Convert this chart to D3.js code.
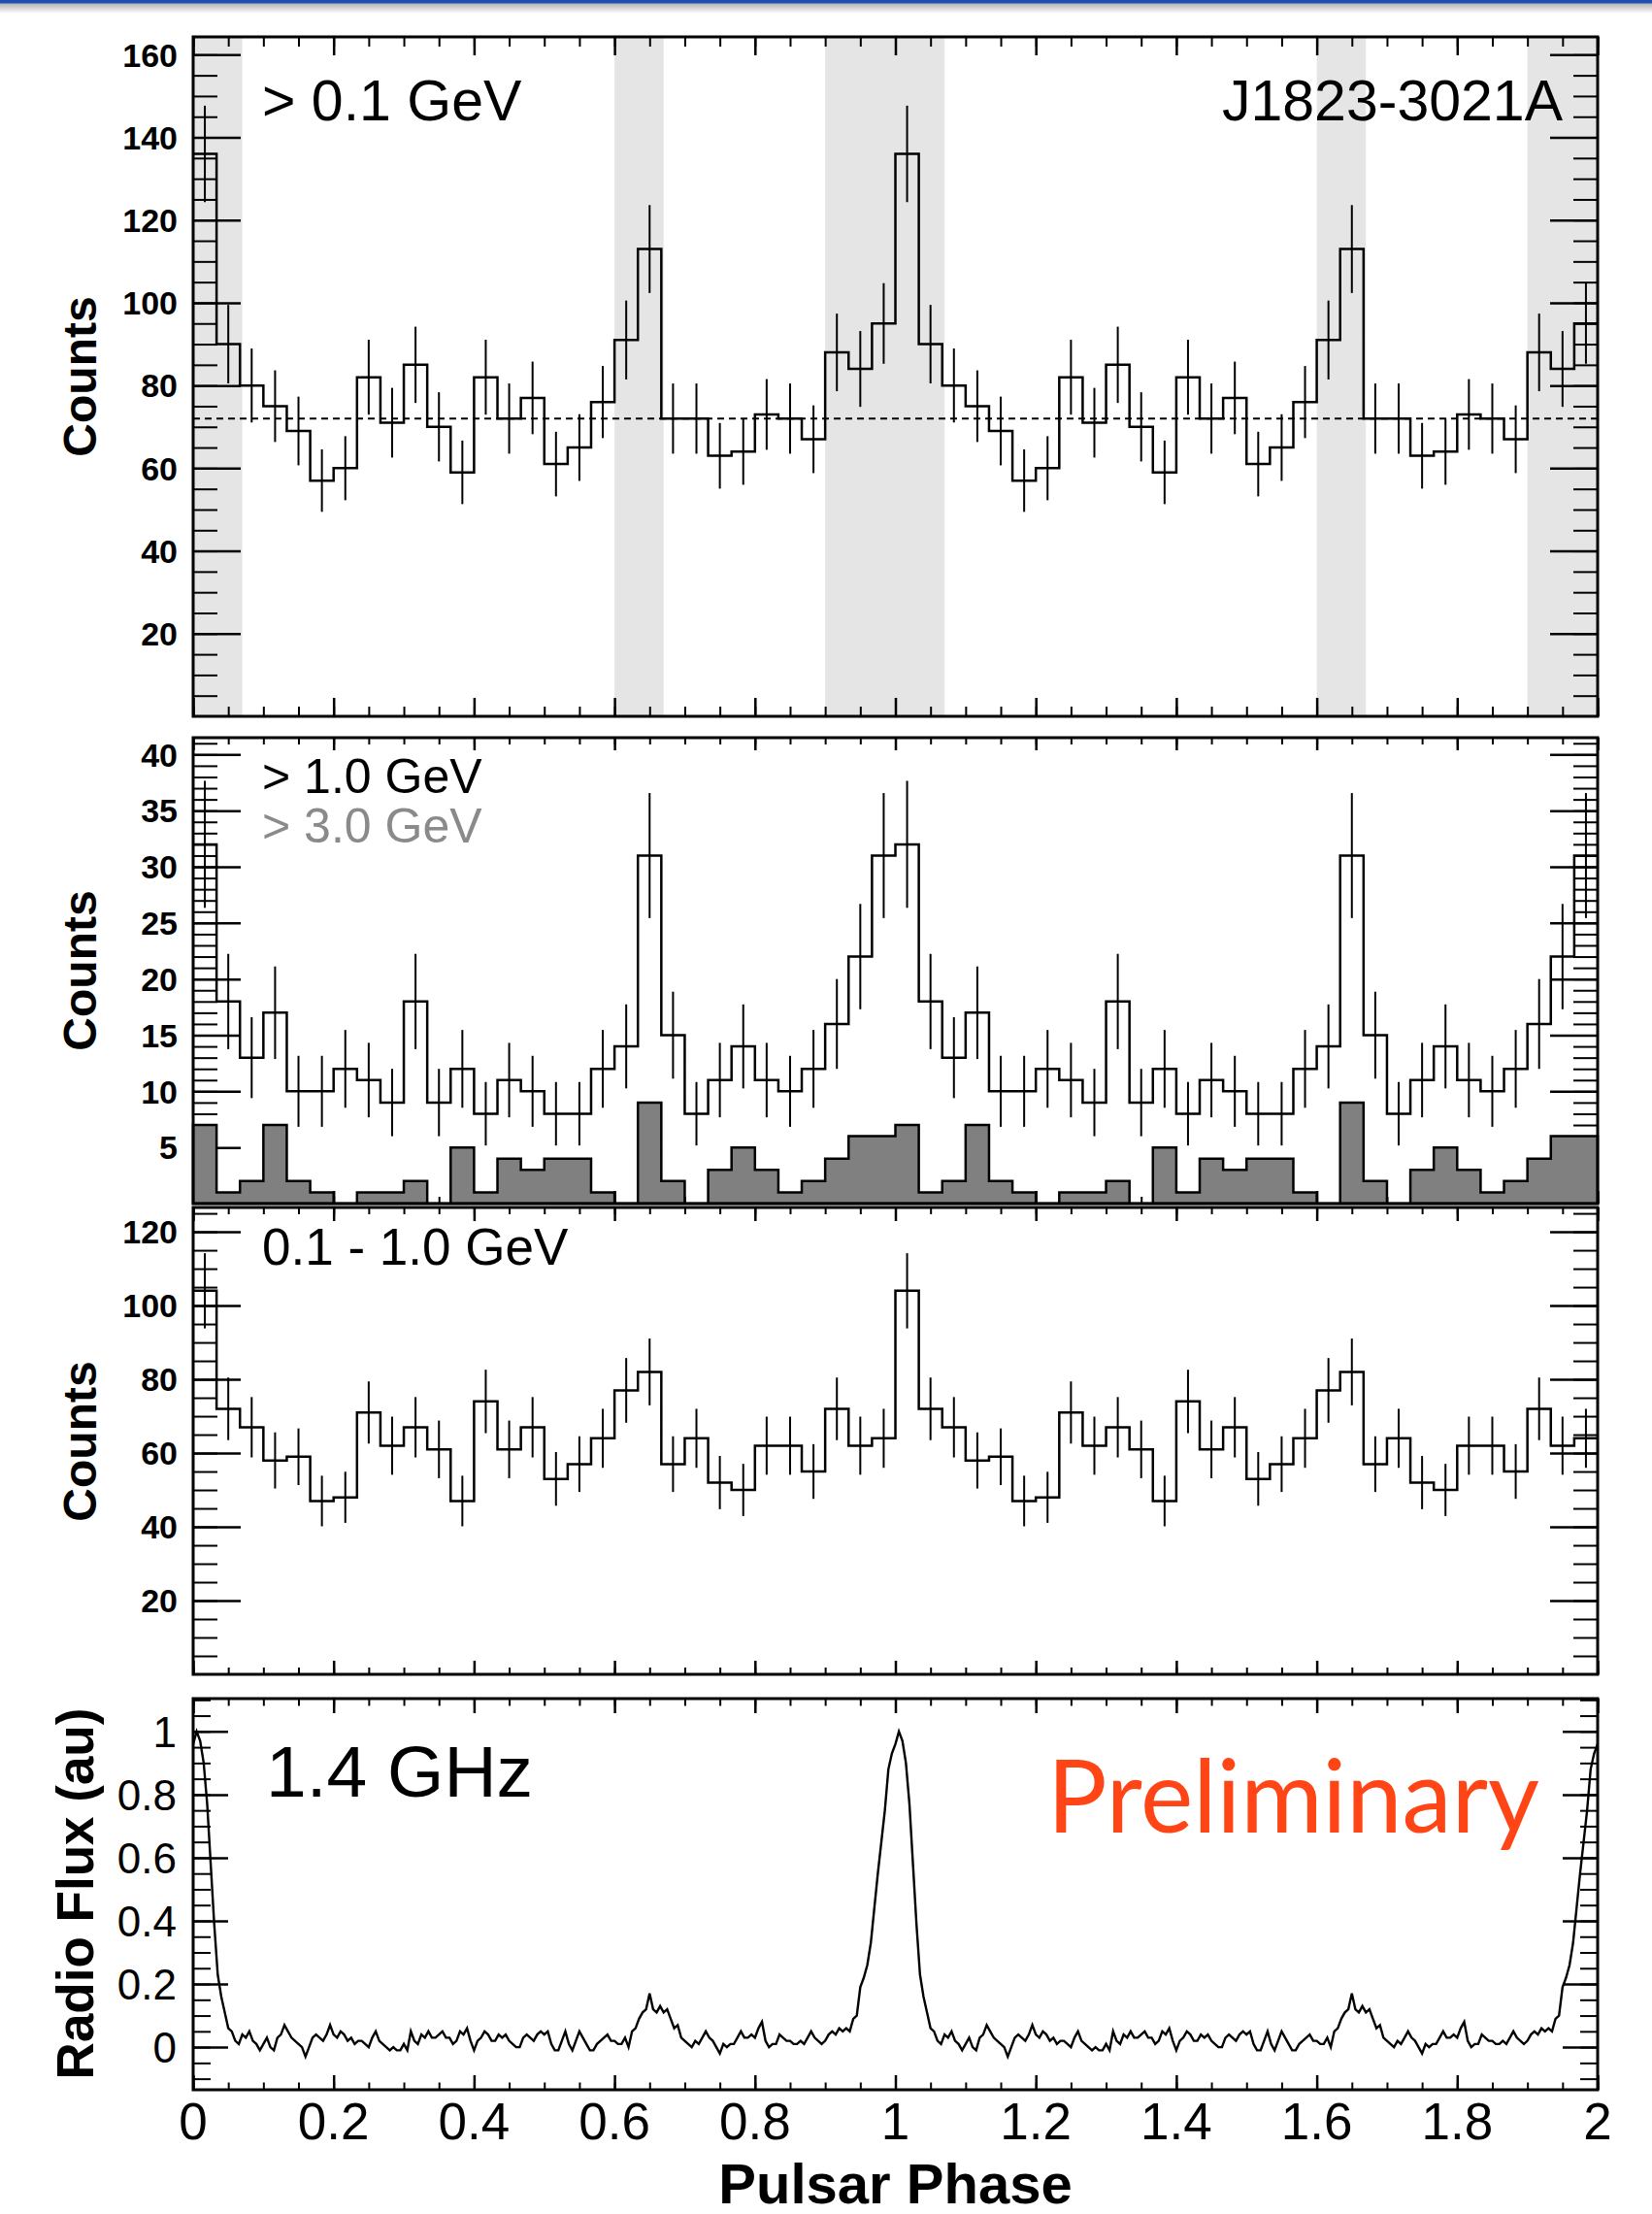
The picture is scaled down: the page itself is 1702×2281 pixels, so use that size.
<!DOCTYPE html>
<html>
<head>
<meta charset="utf-8">
<script src="https://cdn.jsdelivr.net/npm/d3@7"></script>
<style>
  body { margin: 0; background: #fff; }
</style>
</head>
<body>
<div id="chart"></div>
<script>
// phase histograms: 30 bins per rotation, the plot shows two rotations
const phaseBins = 30
const countsAbove01 = [136, 90, 80, 75, 69, 57, 60, 82, 71, 85, 70, 59, 82, 72, 77, 61, 65, 76, 91, 113, 72, 72, 63, 64, 73, 72, 67, 88, 84, 95]
const countsAbove1 = [32, 18, 13, 17, 10, 10, 12, 11, 9, 18, 9, 12, 8, 11, 10, 8, 8, 12, 14, 31, 15, 8, 11, 14, 11, 10, 12, 16, 22, 31]
const countsAbove3 = [7, 1, 2, 7, 2, 1, 0, 1, 1, 2, 0, 5, 1, 4, 3, 4, 4, 1, 0, 9, 2, 0, 3, 5, 3, 1, 2, 4, 6, 6]
const counts01to1 = [104, 72, 67, 58, 59, 47, 48, 71, 62, 67, 61, 47, 74, 61, 67, 53, 57, 64, 77, 82, 57, 64, 52, 50, 62, 62, 55, 72, 62, 64]
const backgroundLevel = 72
const onPulseWindows = [[0, 0.07], [0.6, 0.67], [0.9, 1.07], [1.6, 1.67], [1.9, 2.0]]

// 1.4 GHz radio profile, one rotation sampled every 0.005 in phase
const radioStep = 0.005
const radioFlux = [
  0.96, 1.00, 0.97, 0.90, 0.77, 0.58, 0.39, 0.23, 0.16, 0.11,
  0.06, 0.05, 0.02, 0.01, 0.04, 0.03, 0.05, 0.02, 0.01, -0.01,
  0.01, 0.03, 0.00, -0.01, 0.03, 0.04, 0.07, 0.05, 0.03, 0.02,
  0.01, 0.00, -0.03, 0.00, 0.03, 0.04, 0.03, 0.02, 0.04, 0.07,
  0.04, 0.03, 0.05, 0.04, 0.02, 0.03, 0.01, 0.02, 0.02, 0.01,
  0.00, 0.03, 0.05, 0.02, 0.01, 0.00, -0.01, 0.00, -0.01, -0.01,
  0.01, -0.01, 0.05, 0.02, 0.01, 0.04, 0.03, 0.05, 0.03, 0.03,
  0.04, 0.05, 0.03, 0.03, 0.01, 0.02, 0.05, 0.04, 0.06, 0.02,
  -0.01, 0.02, 0.03, 0.05, 0.04, 0.02, 0.02, 0.04, 0.03, 0.04,
  0.02, 0.01, 0.00, 0.00, 0.03, 0.04, 0.03, 0.02, 0.04, 0.05,
  0.04, 0.05, 0.01, -0.01, -0.01, 0.02, 0.05, 0.01, -0.01, 0.02,
  0.05, 0.03, 0.01, -0.01, -0.01, 0.01, 0.02, 0.03, 0.04, 0.02,
  0.02, 0.01, 0.01, 0.03, 0.00, 0.05, 0.06, 0.09, 0.11, 0.12,
  0.17, 0.12, 0.11, 0.13, 0.11, 0.12, 0.09, 0.06, 0.07, 0.03,
  0.02, 0.01, 0.00, 0.02, 0.01, 0.03, 0.05, 0.03, 0.02, 0.00,
  -0.02, 0.01, 0.00, 0.01, 0.01, 0.03, 0.05, 0.03, 0.03, 0.04,
  0.03, 0.06, 0.08, 0.02, 0.00, 0.01, 0.01, 0.04, 0.03, 0.02,
  0.02, 0.01, 0.01, 0.02, 0.01, 0.03, 0.05, 0.03, 0.02, 0.01,
  0.02, 0.04, 0.05, 0.04, 0.06, 0.05, 0.06, 0.05, 0.09, 0.10,
  0.19, 0.22, 0.26, 0.33, 0.44, 0.55, 0.65, 0.75, 0.88, 0.93
]

const xTickValues = [0, 0.2, 0.4, 0.6, 0.8, 1, 1.2, 1.4, 1.6, 1.8, 2]
const xTickLabels = ['0', '0.2', '0.4', '0.6', '0.8', '1', '1.2', '1.4', '1.6', '1.8', '2']
const radioTickValues = [0, 0.2, 0.4, 0.6, 0.8, 1]
const radioTickLabels = ['0', '0.2', '0.4', '0.6', '0.8', '1']

const width = 1702, height = 2281
const font = "'Liberation Sans', Arial, Helvetica, sans-serif"

const svg = d3.select('#chart').append('svg')
  .attr('width', width)
  .attr('height', height)
  .style('font-family', font)

// slide header strip
const defs = svg.append('defs')
const grad = defs.append('linearGradient').attr('id', 'hdr')
  .attr('x1', 0).attr('x2', 0).attr('y1', 0).attr('y2', 1)
grad.append('stop').attr('offset', '0%').attr('stop-color', '#b0b0b0')
grad.append('stop').attr('offset', '100%').attr('stop-color', '#ffffff')
svg.append('rect').attr('x', 0).attr('y', 3).attr('width', width).attr('height', 11).attr('fill', 'url(#hdr)')
svg.append('rect').attr('x', 0).attr('y', 0).attr('width', width).attr('height', 3.5).attr('fill', '#1f4fb2')

const x = d3.scaleLinear().domain([0, 2]).range([199, 1646])

// repeat one rotation over two
const twoCycles = arr => d3.range(2 * phaseBins).map(i => ({ phase: i / phaseBins, value: arr[i % phaseBins] }))
const stepData = arr => {
  const b = twoCycles(arr)
  return [...b, { phase: 2, value: b[b.length - 1].value }]
}

function drawTicks(g, y, t) {
  const [yb, yt] = y.range()
  const [xl, xr] = x.range()
  const xMajor = d3.range(0, 11).map(i => i * 0.2)
  const xMinor = d3.range(0, 41).map(i => i * 0.05)
  const sets = [
    [d3.axisBottom, x, xMinor, t.xMinor, 2, `translate(0,${yb})`],
    [d3.axisBottom, x, xMajor, t.xMajor, 2.5, `translate(0,${yb})`],
    [d3.axisTop, x, xMinor, t.xMinor, 2, `translate(0,${yt})`],
    [d3.axisTop, x, xMajor, t.xMajor, 2.5, `translate(0,${yt})`],
    [d3.axisLeft, y, t.yMinorValues, t.yMinor, 2, `translate(${xl},0)`],
    [d3.axisLeft, y, t.yMajorValues, t.yMajor, 2.5, `translate(${xl},0)`],
    [d3.axisRight, y, t.yMinorValues, t.yMinor, 2, `translate(${xr},0)`],
    [d3.axisRight, y, t.yMajorValues, t.yMajor, 2.5, `translate(${xr},0)`]
  ]
  sets.forEach(([axisFn, scale, values, size, sw, tr]) => {
    const a = g.append('g')
      .attr('transform', tr)
      .call(axisFn(scale).tickValues(values).tickSize(-size).tickFormat(''))
    a.select('.domain').remove()
    a.selectAll('line').attr('stroke', '#000').attr('stroke-width', sw)
  })
}

function drawFrame(g, y) {
  const [yb, yt] = y.range()
  const [xl, xr] = x.range()
  g.append('rect')
    .attr('x', xl).attr('y', yt)
    .attr('width', xr - xl).attr('height', yb - yt)
    .attr('fill', 'none')
    .attr('stroke', '#000')
    .attr('stroke-width', 3)
}

function drawHistogram(g, y, arr) {
  const line = d3.line()
    .x(d => x(d.phase))
    .y(d => y(d.value))
    .curve(d3.curveStepAfter)
  g.append('path')
    .datum(stepData(arr))
    .attr('d', line)
    .attr('fill', 'none')
    .attr('stroke', '#000')
    .attr('stroke-width', 2.5)

  // Poisson error bars at bin centres
  g.selectAll('.err')
    .data(twoCycles(arr))
    .enter()
    .append('line')
    .attr('class', 'err')
    .attr('x1', d => x(d.phase + 0.5 / phaseBins))
    .attr('x2', d => x(d.phase + 0.5 / phaseBins))
    .attr('y1', d => y(d.value - Math.sqrt(d.value)))
    .attr('y2', d => y(d.value + Math.sqrt(d.value)))
    .attr('stroke', '#000')
    .attr('stroke-width', 2)
}

function yLabels(g, y, values, labels, size, weight, xr) {
  g.selectAll(null)
    .data(values)
    .enter()
    .append('text')
    .attr('x', xr)
    .attr('y', d => y(d))
    .attr('dy', '0.36em')
    .attr('text-anchor', 'end')
    .attr('font-size', size)
    .attr('font-weight', weight)
    .text((d, i) => labels[i])
}

function axisTitle(g, text, cx, cy, size) {
  g.append('text')
    .attr('transform', `translate(${cx},${cy}) rotate(-90)`)
    .attr('text-anchor', 'middle')
    .attr('font-size', size)
    .attr('font-weight', 'bold')
    .text(text)
}

function annotation(g, text, px, py, size, opts = {}) {
  g.append('text')
    .attr('x', px)
    .attr('y', py)
    .attr('font-size', size)
    .attr('text-anchor', opts.anchor || 'start')
    .attr('fill', opts.fill || '#000')
    .text(text)
}

// ---- panel 1: > 0.1 GeV
const y1 = d3.scaleLinear().domain([0, 164.3]).range([738, 38])
const g1 = svg.append('g')
g1.selectAll('.win')
  .data(onPulseWindows)
  .enter()
  .append('rect')
  .attr('x', d => x(d[0]))
  .attr('width', d => x(d[1]) - x(d[0]))
  .attr('y', y1.range()[1])
  .attr('height', y1.range()[0] - y1.range()[1])
  .attr('fill', '#e5e5e5')
g1.append('line')
  .attr('x1', x(0)).attr('x2', x(2))
  .attr('y1', y1(backgroundLevel)).attr('y2', y1(backgroundLevel))
  .attr('stroke', '#000')
  .attr('stroke-width', 2)
  .attr('stroke-dasharray', '7,5')
drawHistogram(g1, y1, countsAbove01)
drawTicks(g1, y1, {
  xMajor: 19, xMinor: 10, yMajor: 49, yMinor: 25,
  yMajorValues: d3.range(20, 161, 20), yMinorValues: d3.range(5, 161, 5)
})
drawFrame(g1, y1)
yLabels(g1, y1, d3.range(20, 161, 20), d3.range(20, 161, 20).map(String), 34, 'bold', 183)
axisTitle(g1, 'Counts', 99, 388, 48)
annotation(g1, '> 0.1 GeV', 270, 124, 59)
annotation(g1, 'J1823-3021A', 1610, 124, 59, { anchor: 'end' })

// ---- panel 2: > 1.0 GeV and > 3.0 GeV
const y2 = d3.scaleLinear().domain([0, 41.5]).range([1240, 760])
const g2 = svg.append('g')
drawHistogram(g2, y2, countsAbove1)
drawTicks(g2, y2, {
  xMajor: 13, xMinor: 7, yMajor: 49, yMinor: 25,
  yMajorValues: d3.range(5, 41, 5), yMinorValues: d3.range(1, 42, 1)
})
const area = d3.area()
  .x(d => x(d.phase))
  .y0(y2(0))
  .y1(d => y2(d.value))
  .curve(d3.curveStepAfter)
g2.append('path')
  .datum(stepData(countsAbove3))
  .attr('d', area)
  .attr('fill', '#808080')
  .attr('stroke', '#000')
  .attr('stroke-width', 2.5)
drawFrame(g2, y2)
yLabels(g2, y2, d3.range(5, 41, 5), d3.range(5, 41, 5).map(String), 34, 'bold', 183)
axisTitle(g2, 'Counts', 99, 1000, 48)
annotation(g2, '> 1.0 GeV', 270, 817, 50)
annotation(g2, '> 3.0 GeV', 270, 868, 50, { fill: '#8a8a8a' })

// ---- panel 3: 0.1 - 1.0 GeV
const y3 = d3.scaleLinear().domain([0, 126.6]).range([1725, 1244])
const g3 = svg.append('g')
drawHistogram(g3, y3, counts01to1)
drawTicks(g3, y3, {
  xMajor: 14, xMinor: 7, yMajor: 49, yMinor: 25,
  yMajorValues: d3.range(20, 121, 20), yMinorValues: d3.range(5, 126, 5)
})
drawFrame(g3, y3)
yLabels(g3, y3, d3.range(20, 121, 20), d3.range(20, 121, 20).map(String), 34, 'bold', 183)
axisTitle(g3, 'Counts', 99, 1485, 48)
annotation(g3, '0.1 - 1.0 GeV', 270, 1303, 53)

// ---- panel 4: radio profile
const y4 = d3.scaleLinear().domain([-0.135, 1.104]).range([2153, 1750])
const g4 = svg.append('g')
const radioPoints = []
for (let c = 0; c < 2; c++) {
  radioFlux.forEach((v, i) => radioPoints.push({ phase: c + i * radioStep, value: v }))
}
radioPoints.push({ phase: 2, value: radioFlux[0] })
g4.append('path')
  .datum(radioPoints)
  .attr('d', d3.line().x(d => x(d.phase)).y(d => y4(d.value)))
  .attr('fill', 'none')
  .attr('stroke', '#000')
  .attr('stroke-width', 2.4)
  .attr('stroke-linejoin', 'miter')
drawTicks(g4, y4, {
  xMajor: 15, xMinor: 7.5, yMajor: 36, yMinor: 18,
  yMajorValues: radioTickValues, yMinorValues: d3.range(-2, 23).map(i => i * 0.05)
})
drawFrame(g4, y4)
yLabels(g4, y4, radioTickValues, radioTickLabels, 44, 'normal', 182)
axisTitle(g4, 'Radio Flux (au)', 96, 1951, 53)
annotation(g4, '1.4 GHz', 274, 1851, 75)
g4.append('text')
  .attr('x', 1079)
  .attr('y', 1888)
  .attr('font-family', "Lato, 'Open Sans', sans-serif")
  .attr('font-size', 104)
  .attr('fill', '#ff4516')
  .attr('textLength', 507)
  .attr('lengthAdjust', 'spacingAndGlyphs')
  .text('Preliminary')

// x tick labels and title
svg.append('g')
  .selectAll('text')
  .data(xTickValues)
  .enter()
  .append('text')
  .attr('x', d => x(d))
  .attr('y', 2204)
  .attr('text-anchor', 'middle')
  .attr('font-size', 53)
  .text((d, i) => xTickLabels[i])

svg.append('text')
  .attr('x', (x.range()[0] + x.range()[1]) / 2)
  .attr('y', 2270)
  .attr('text-anchor', 'middle')
  .attr('font-size', 58)
  .attr('font-weight', 'bold')
  .text('Pulsar Phase')
</script>
</body>
</html>
